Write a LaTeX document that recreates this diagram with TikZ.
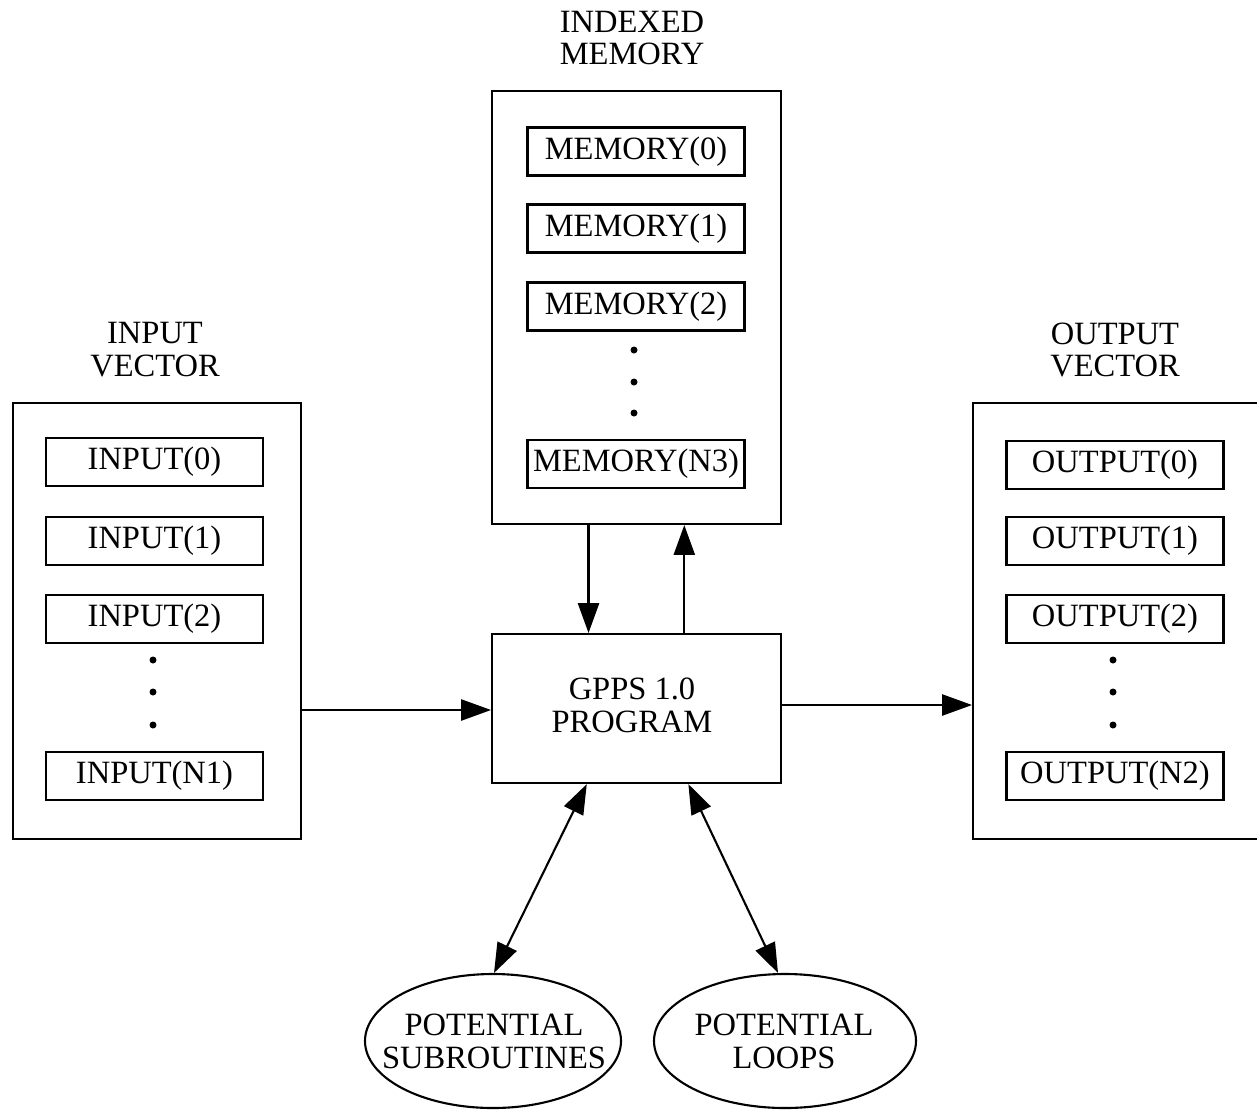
\documentclass[tikz,border=0pt]{standalone}
\usepackage{fontspec}
\setmainfont{Liberation Serif}
\usetikzlibrary{arrows.meta,shapes.geometric,calc}
\begin{document}
\begin{tikzpicture}[x=0.02cm,y=-0.02cm,
  every node/.style={font=\fontsize{18.5}{18.7}\selectfont, align=center},
  frame/.style={draw, line width=1.2pt, inner sep=0pt, anchor=north west},
  item/.style={draw, line width=1.2pt, inner sep=0pt, minimum width=217*0.02cm, minimum height=48*0.02cm},
  dotmark/.style={circle, fill, inner sep=0pt, minimum size=7*0.02cm},
  oval/.style={draw, ellipse, line width=1.2pt, inner sep=0pt},
  arr/.style={line width=1.2pt, -{Triangle[length=17pt,width=12pt]}},
  darr/.style={line width=1.2pt, {Triangle[length=17pt,width=12pt]}-{Triangle[length=17pt,width=12pt]}}
]
\clip (0,0) rectangle (1257,1112);
\useasboundingbox (0,0) rectangle (1257,1112);

% containers
\node[frame, minimum width=288*0.02cm, minimum height=436*0.02cm] (inbox) at (12,402) {};
\node[frame, minimum width=289*0.02cm, minimum height=433*0.02cm] (mem) at (491,90) {};
\node[frame, minimum width=300*0.02cm, minimum height=436*0.02cm] (outbox) at (972,402) {};
\node[frame, minimum width=289*0.02cm, minimum height=149*0.02cm] (gpps) at (491,633) {};
\node at (632,705) (gppstext) {GPPS 1.0\\PROGRAM};

% titles
\node (intitle) at (155,350) {INPUT\\VECTOR};
\node (memtitle) at (632,38) {INDEXED\\MEMORY};
\node (outtitle) at (1115,350) {OUTPUT\\VECTOR};

% input items
\node[item] (in0) at (154.5,462) {INPUT(0)};
\node[item] (in1) at (154.5,541) {INPUT(1)};
\node[item] (in2) at (154.5,619) {INPUT(2)};
\node[dotmark] (ind1) at (153,660) {};
\node[dotmark] (ind2) at (153,692) {};
\node[dotmark] (ind3) at (153,725) {};
\node[item] (inN) at (154.5,776) {INPUT(N1)};

% memory items
\node[item] (m0) at (636,151.5) {MEMORY(0)};
\node[item] (m1) at (636,228.5) {MEMORY(1)};
\node[item] (m2) at (636,306.5) {MEMORY(2)};
\node[dotmark] (md1) at (634,350) {};
\node[dotmark] (md2) at (634,382) {};
\node[dotmark] (md3) at (634,413) {};
\node[item] (mN) at (636,464) {MEMORY(N3)};

% output items
\node[item] (o0) at (1115,465) {OUTPUT(0)};
\node[item] (o1) at (1115,541) {OUTPUT(1)};
\node[item] (o2) at (1115,619) {OUTPUT(2)};
\node[dotmark] (od1) at (1113,660) {};
\node[dotmark] (od2) at (1113,692) {};
\node[dotmark] (od3) at (1113,725) {};
\node[item] (oN) at (1115,776) {OUTPUT(N2)};

% ovals
\node[oval, minimum width=256*0.02cm, minimum height=134*0.02cm] (sub) at (493,1041) {};
\node (subtext) at (494,1041) {POTENTIAL\\SUBROUTINES};
\node[oval, minimum width=262*0.02cm, minimum height=134*0.02cm] (loops) at (785,1041) {};
\node (loopstext) at (784,1041) {POTENTIAL\\LOOPS};

% connectors
\draw[arr] (inbox.east |- 0,710) -- (gpps.west |- 0,710);
\draw[arr] (gpps.east |- 0,705) -- (outbox.west |- 0,705);
\coordinate (mdown) at ($(mem.south west)!0.335!(mem.south east)$);
\coordinate (mup) at ($(mem.south west)!0.664!(mem.south east)$);
\draw[arr] (mdown) -- (mdown |- gpps.north);
\draw[arr] (mup |- gpps.north) -- (mup);
\coordinate (gl) at ($(gpps.south west)!0.329!(gpps.south east)$);
\coordinate (gr) at ($(gpps.south west)!0.678!(gpps.south east)$);
\draw[darr] (gl) -- ([xshift=1*0.02cm]sub.north);
\draw[darr] (gr) -- ([xshift=-7*0.02cm]loops.north);
\end{tikzpicture}
\end{document}
